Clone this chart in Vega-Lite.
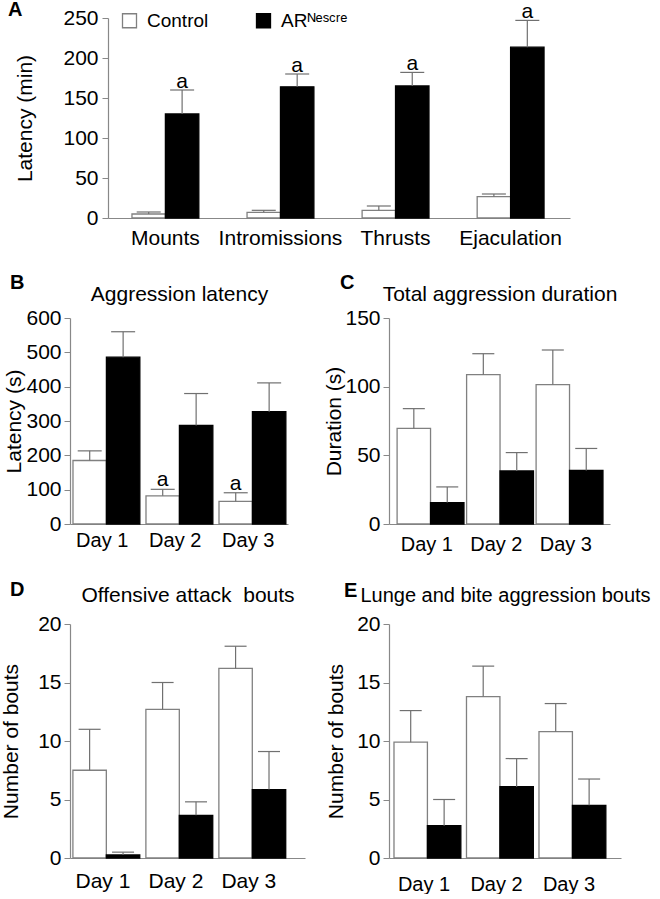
{
"$schema": "https://vega.github.io/schema/vega-lite/v6.json",
"padding": {"left": 0, "top": 0, "right": 0, "bottom": 0},
"bounds": "flush",
"columns": 2,
"spacing": {"row": 100, "column": 84},
"config": {
 "view": {"stroke": null},
 "font": "Liberation Sans",
 "axis": {"domainColor": "#888888", "tickColor": "#888888", "labelColor": "black", "titleColor": "black", "grid": false, "labelFont": "Liberation Sans", "titleFont": "Liberation Sans", "titleFontWeight": "normal", "labelFontSize": 20, "titleFontSize": 21, "domainWidth": 1.2, "labelOverlap": false},
 "title": {"font": "Liberation Sans", "fontWeight": "bold", "fontSize": 20, "anchor": "start", "frame": "group", "baseline": "alphabetic", "color": "black"}
},
"datasets": {
 "A": [
  {"cat": "Mounts", "group": "Control", "mean": 5, "upper": 7.5, "sig": ""},
  {"cat": "Mounts", "group": "ARᴺᵉˢᶜʳᵉ", "mean": 130, "upper": 160, "sig": "a"},
  {"cat": "Intromissions", "group": "Control", "mean": 7.1, "upper": 9.6, "sig": ""},
  {"cat": "Intromissions", "group": "ARᴺᵉˢᶜʳᵉ", "mean": 164, "upper": 180, "sig": "a"},
  {"cat": "Thrusts", "group": "Control", "mean": 9.6, "upper": 15, "sig": ""},
  {"cat": "Thrusts", "group": "ARᴺᵉˢᶜʳᵉ", "mean": 165, "upper": 182, "sig": "a"},
  {"cat": "Ejaculation", "group": "Control", "mean": 26.7, "upper": 30, "sig": ""},
  {"cat": "Ejaculation", "group": "ARᴺᵉˢᶜʳᵉ", "mean": 213.5, "upper": 247, "sig": "a"}
 ],
 "B": [
  {"cat": "Day 1", "group": "Control", "mean": 185, "upper": 213, "sig": ""},
  {"cat": "Day 1", "group": "ARᴺᵉˢᶜʳᵉ", "mean": 486, "upper": 560, "sig": ""},
  {"cat": "Day 2", "group": "Control", "mean": 82, "upper": 101, "sig": "a"},
  {"cat": "Day 2", "group": "ARᴺᵉˢᶜʳᵉ", "mean": 287, "upper": 380, "sig": ""},
  {"cat": "Day 3", "group": "Control", "mean": 66, "upper": 91, "sig": "a"},
  {"cat": "Day 3", "group": "ARᴺᵉˢᶜʳᵉ", "mean": 327, "upper": 411, "sig": ""}
 ],
 "C": [
  {"cat": "Day 1", "group": "Control", "mean": 69.6, "upper": 84, "sig": ""},
  {"cat": "Day 1", "group": "ARᴺᵉˢᶜʳᵉ", "mean": 15.6, "upper": 27, "sig": ""},
  {"cat": "Day 2", "group": "Control", "mean": 108.7, "upper": 124, "sig": ""},
  {"cat": "Day 2", "group": "ARᴺᵉˢᶜʳᵉ", "mean": 38.6, "upper": 52, "sig": ""},
  {"cat": "Day 3", "group": "Control", "mean": 101.5, "upper": 126.7, "sig": ""},
  {"cat": "Day 3", "group": "ARᴺᵉˢᶜʳᵉ", "mean": 39, "upper": 55, "sig": ""}
 ],
 "D": [
  {"cat": "Day 1", "group": "Control", "mean": 7.5, "upper": 11, "sig": ""},
  {"cat": "Day 1", "group": "ARᴺᵉˢᶜʳᵉ", "mean": 0.26, "upper": 0.5, "sig": ""},
  {"cat": "Day 2", "group": "Control", "mean": 12.7, "upper": 15, "sig": ""},
  {"cat": "Day 2", "group": "ARᴺᵉˢᶜʳᵉ", "mean": 3.65, "upper": 4.8, "sig": ""},
  {"cat": "Day 3", "group": "Control", "mean": 16.2, "upper": 18.1, "sig": ""},
  {"cat": "Day 3", "group": "ARᴺᵉˢᶜʳᵉ", "mean": 5.85, "upper": 9.1, "sig": ""}
 ],
 "E": [
  {"cat": "Day 1", "group": "Control", "mean": 9.9, "upper": 12.6, "sig": ""},
  {"cat": "Day 1", "group": "ARᴺᵉˢᶜʳᵉ", "mean": 2.76, "upper": 5, "sig": ""},
  {"cat": "Day 2", "group": "Control", "mean": 13.8, "upper": 16.4, "sig": ""},
  {"cat": "Day 2", "group": "ARᴺᵉˢᶜʳᵉ", "mean": 6.1, "upper": 8.5, "sig": ""},
  {"cat": "Day 3", "group": "Control", "mean": 10.8, "upper": 13.2, "sig": ""},
  {"cat": "Day 3", "group": "ARᴺᵉˢᶜʳᵉ", "mean": 4.5, "upper": 6.75, "sig": ""}
 ]
},
"concat": [
   {"width": 218, "height": 200,
    "data": {"name": "A"},
    "title": {"text": "A", "dx": -62, "offset": -19},
    "layer": [
     {"mark": {"type": "bar", "strokeWidth": 1.3},
      "encoding": {
       "x": {"field": "cat", "type": "nominal", "sort": null, "scale": {"range": [38, 500], "paddingInner": 0.419, "paddingOuter": 0.217, "align": 0.48}, "axis": {"title": null, "ticks": false, "tickSize": 0, "labelAngle": 0, "labelPadding": 9, "labelFontSize": 21}},
       "xOffset": {"field": "group", "type": "nominal", "sort": ["Control", "ARᴺᵉˢᶜʳᵉ"], "scale": {"paddingInner": 0, "paddingOuter": 0}},
       "y": {"field": "mean", "type": "quantitative", "title": "Latency (min)", "scale": {"domain": [0, 250], "nice": false}, "axis": {"values": [0, 50, 100, 150, 200, 250], "labelOverlap": false, "offset": -38, "tickSize": 6, "labelPadding": 4, "titlePadding": 27, "labelFontSize": 21, "titleFontSize": 21}},
       "fill": {"field": "group", "type": "nominal", "scale": {"domain": ["Control", "ARᴺᵉˢᶜʳᵉ"], "range": ["white", "black"]},
                "legend": {"orient": "none", "legendX": 50, "legendY": -7, "direction": "horizontal", "title": null, "symbolType": "square", "symbolSize": 196, "symbolStrokeWidth": 1.3, "labelFontSize": 19, "labelFont": "Liberation Sans", "labelColor": "black", "labelOffset": 8, "columnPadding": 44, "padding": 0}},
       "stroke": {"field": "group", "type": "nominal", "scale": {"domain": ["Control", "ARᴺᵉˢᶜʳᵉ"], "range": ["#808080", "black"]},
                "legend": {"orient": "none", "legendX": 50, "legendY": -7, "direction": "horizontal", "title": null, "symbolType": "square", "symbolSize": 196, "symbolStrokeWidth": 1.3, "labelFontSize": 19, "labelFont": "Liberation Sans", "labelColor": "black", "labelOffset": 8, "columnPadding": 44, "padding": 0}}
      }},
     {"mark": {"type": "rule", "color": "#707070", "strokeWidth": 1.2},
      "encoding": {
       "x": {"field": "cat", "type": "nominal", "sort": null},
       "xOffset": {"field": "group", "type": "nominal", "sort": ["Control", "ARᴺᵉˢᶜʳᵉ"]},
       "y": {"field": "mean", "type": "quantitative", "title": "Latency (min)", "axis": {"values": [0, 50, 100, 150, 200, 250], "labelOverlap": false, "offset": -38, "tickSize": 6, "labelPadding": 4, "titlePadding": 27, "labelFontSize": 21, "titleFontSize": 21}},
       "y2": {"field": "upper"}
      }},
     {"mark": {"type": "tick", "color": "#707070", "size": 24, "thickness": 1.2, "opacity": 1, "orient": "horizontal"},
      "encoding": {
       "x": {"field": "cat", "type": "nominal", "sort": null},
       "xOffset": {"field": "group", "type": "nominal", "sort": ["Control", "ARᴺᵉˢᶜʳᵉ"]},
       "y": {"field": "upper", "type": "quantitative", "title": "Latency (min)", "axis": {"values": [0, 50, 100, 150, 200, 250], "labelOverlap": false, "offset": -38, "tickSize": 6, "labelPadding": 4, "titlePadding": 27, "labelFontSize": 21, "titleFontSize": 21}}
      }},
     {"mark": {"type": "text", "baseline": "alphabetic", "dy": -2, "fontSize": 21, "font": "Liberation Sans", "color": "black"},
      "encoding": {
       "x": {"field": "cat", "type": "nominal", "sort": null},
       "xOffset": {"field": "group", "type": "nominal", "sort": ["Control", "ARᴺᵉˢᶜʳᵉ"]},
       "y": {"field": "upper", "type": "quantitative", "title": "Latency (min)", "axis": {"values": [0, 50, 100, 150, 200, 250], "labelOverlap": false, "offset": -38, "tickSize": 6, "labelPadding": 4, "titlePadding": 27, "labelFontSize": 21, "titleFontSize": 21}},
       "text": {"field": "sig"}
      }}
    ]},
   {"width": 1, "height": 1, "data": {"values": [{"v": 0}]}, "mark": {"type": "point", "opacity": 0}},
   {"width": 218, "height": 206,
    "data": {"name": "B"},
    "title": {"text": "B", "dx": -60, "offset": -10},
    "resolve": {"axis": {"x": "independent"}},
    "layer": [
     {"mark": {"type": "bar", "strokeWidth": 1.3},
      "encoding": {
       "x": {"field": "cat", "type": "nominal", "sort": null, "scale": {"paddingInner": 0.2, "paddingOuter": 0.093, "align": 0.22}, "axis": {"title": null, "ticks": false, "tickSize": 0, "labelAngle": 0, "labelPadding": 6, "labelFontSize": 20}},
       "xOffset": {"field": "group", "type": "nominal", "sort": ["Control", "ARᴺᵉˢᶜʳᵉ"], "scale": {"paddingInner": 0, "paddingOuter": 0}},
       "y": {"field": "mean", "type": "quantitative", "title": "Latency (s)", "scale": {"domain": [0, 600], "nice": false}, "axis": {"values": [0, 100, 200, 300, 400, 500, 600], "labelOverlap": false, "tickSize": 6, "labelPadding": 3, "titlePadding": 1, "labelFontSize": 21, "titleFontSize": 21}},
       "fill": {"condition": {"test": "datum.group === 'Control'", "value": "white"}, "value": "black"},
       "stroke": {"condition": {"test": "datum.group === 'Control'", "value": "#808080"}, "value": "black"}
      }},
     {"mark": {"type": "rule", "color": "#707070", "strokeWidth": 1.2},
      "encoding": {
       "x": {"field": "cat", "type": "nominal", "sort": null, "axis": null},
       "xOffset": {"field": "group", "type": "nominal", "sort": ["Control", "ARᴺᵉˢᶜʳᵉ"]},
       "y": {"field": "mean", "type": "quantitative", "title": "Latency (s)", "axis": {"values": [0, 100, 200, 300, 400, 500, 600], "labelOverlap": false, "tickSize": 6, "labelPadding": 3, "titlePadding": 1, "labelFontSize": 21, "titleFontSize": 21}},
       "y2": {"field": "upper"}
      }},
     {"mark": {"type": "tick", "color": "#707070", "size": 24, "thickness": 1.2, "opacity": 1, "orient": "horizontal"},
      "encoding": {
       "x": {"field": "cat", "type": "nominal", "sort": null, "axis": null},
       "xOffset": {"field": "group", "type": "nominal", "sort": ["Control", "ARᴺᵉˢᶜʳᵉ"]},
       "y": {"field": "upper", "type": "quantitative", "title": "Latency (s)", "axis": {"values": [0, 100, 200, 300, 400, 500, 600], "labelOverlap": false, "tickSize": 6, "labelPadding": 3, "titlePadding": 1, "labelFontSize": 21, "titleFontSize": 21}}
      }},
     {"mark": {"type": "text", "baseline": "alphabetic", "dy": -3, "fontSize": 21, "font": "Liberation Sans", "color": "black"},
      "encoding": {
       "x": {"field": "cat", "type": "nominal", "sort": null, "axis": {"orient": "top", "title": "Aggression latency", "labels": false, "ticks": false, "domain": false, "titlePadding": 14, "titleFontSize": 21}},
       "xOffset": {"field": "group", "type": "nominal", "sort": ["Control", "ARᴺᵉˢᶜʳᵉ"]},
       "y": {"field": "upper", "type": "quantitative", "title": "Latency (s)", "axis": {"values": [0, 100, 200, 300, 400, 500, 600], "labelOverlap": false, "tickSize": 6, "labelPadding": 3, "titlePadding": 1, "labelFontSize": 21, "titleFontSize": 21}},
       "text": {"field": "sig"}
      }}
    ]},
   {"width": 221, "height": 206,
    "data": {"name": "C"},
    "title": {"text": "C", "dx": -49, "offset": -10},
    "resolve": {"axis": {"x": "independent"}},
    "layer": [
     {"mark": {"type": "bar", "strokeWidth": 1.3},
      "encoding": {
       "x": {"field": "cat", "type": "nominal", "sort": null, "scale": {"paddingInner": 0.144, "paddingOuter": 0.162, "align": 0.36}, "axis": {"title": null, "ticks": false, "tickSize": 0, "labelAngle": 0, "labelPadding": 10, "labelFontSize": 20}},
       "xOffset": {"field": "group", "type": "nominal", "sort": ["Control", "ARᴺᵉˢᶜʳᵉ"], "scale": {"paddingInner": 0, "paddingOuter": 0}},
       "y": {"field": "mean", "type": "quantitative", "title": "Duration (s)", "scale": {"domain": [0, 150], "nice": false}, "axis": {"values": [0, 50, 100, 150], "labelOverlap": false, "tickSize": 6, "labelPadding": 3, "titlePadding": 0, "labelFontSize": 21, "titleFontSize": 21}},
       "fill": {"condition": {"test": "datum.group === 'Control'", "value": "white"}, "value": "black"},
       "stroke": {"condition": {"test": "datum.group === 'Control'", "value": "#808080"}, "value": "black"}
      }},
     {"mark": {"type": "rule", "color": "#707070", "strokeWidth": 1.2},
      "encoding": {
       "x": {"field": "cat", "type": "nominal", "sort": null, "axis": null},
       "xOffset": {"field": "group", "type": "nominal", "sort": ["Control", "ARᴺᵉˢᶜʳᵉ"]},
       "y": {"field": "mean", "type": "quantitative", "title": "Duration (s)", "axis": {"values": [0, 50, 100, 150], "labelOverlap": false, "tickSize": 6, "labelPadding": 3, "titlePadding": 0, "labelFontSize": 21, "titleFontSize": 21}},
       "y2": {"field": "upper"}
      }},
     {"mark": {"type": "tick", "color": "#707070", "size": 22, "thickness": 1.2, "opacity": 1, "orient": "horizontal"},
      "encoding": {
       "x": {"field": "cat", "type": "nominal", "sort": null, "axis": null},
       "xOffset": {"field": "group", "type": "nominal", "sort": ["Control", "ARᴺᵉˢᶜʳᵉ"]},
       "y": {"field": "upper", "type": "quantitative", "title": "Duration (s)", "axis": {"values": [0, 50, 100, 150], "labelOverlap": false, "tickSize": 6, "labelPadding": 3, "titlePadding": 0, "labelFontSize": 21, "titleFontSize": 21}}
      }},
     {"mark": {"type": "text", "baseline": "alphabetic", "dy": -3, "fontSize": 21, "font": "Liberation Sans", "color": "black"},
      "encoding": {
       "x": {"field": "cat", "type": "nominal", "sort": null, "axis": {"orient": "top", "title": "Total aggression duration", "labels": false, "ticks": false, "domain": false, "titlePadding": 14, "titleFontSize": 21}},
       "xOffset": {"field": "group", "type": "nominal", "sort": ["Control", "ARᴺᵉˢᶜʳᵉ"]},
       "y": {"field": "upper", "type": "quantitative", "title": "Duration (s)", "axis": {"values": [0, 50, 100, 150], "labelOverlap": false, "tickSize": 6, "labelPadding": 3, "titlePadding": 0, "labelFontSize": 21, "titleFontSize": 21}},
       "text": {"field": "sig"}
      }}
    ]},
   {"width": 235, "height": 234,
    "data": {"name": "D"},
    "title": {"text": "D", "dx": -60, "offset": -16},
    "resolve": {"axis": {"x": "independent"}},
    "layer": [
     {"mark": {"type": "bar", "strokeWidth": 1.3},
      "encoding": {
       "x": {"field": "cat", "type": "nominal", "sort": null, "scale": {"paddingInner": 0.178, "paddingOuter": 0.199, "align": 0.1}, "axis": {"title": null, "ticks": false, "tickSize": 0, "labelAngle": 0, "labelPadding": 12, "labelFontSize": 21}},
       "xOffset": {"field": "group", "type": "nominal", "sort": ["Control", "ARᴺᵉˢᶜʳᵉ"], "scale": {"paddingInner": 0, "paddingOuter": 0}},
       "y": {"field": "mean", "type": "quantitative", "title": "Number of bouts", "scale": {"domain": [0, 20], "nice": false}, "axis": {"values": [0, 5, 10, 15, 20], "labelOverlap": false, "tickSize": 6, "labelPadding": 3, "titlePadding": 16, "labelFontSize": 21, "titleFontSize": 21}},
       "fill": {"condition": {"test": "datum.group === 'Control'", "value": "white"}, "value": "black"},
       "stroke": {"condition": {"test": "datum.group === 'Control'", "value": "#808080"}, "value": "black"}
      }},
     {"mark": {"type": "rule", "color": "#707070", "strokeWidth": 1.2},
      "encoding": {
       "x": {"field": "cat", "type": "nominal", "sort": null, "axis": null},
       "xOffset": {"field": "group", "type": "nominal", "sort": ["Control", "ARᴺᵉˢᶜʳᵉ"]},
       "y": {"field": "mean", "type": "quantitative", "title": "Number of bouts", "axis": {"values": [0, 5, 10, 15, 20], "labelOverlap": false, "tickSize": 6, "labelPadding": 3, "titlePadding": 16, "labelFontSize": 21, "titleFontSize": 21}},
       "y2": {"field": "upper"}
      }},
     {"mark": {"type": "tick", "color": "#707070", "size": 22, "thickness": 1.2, "opacity": 1, "orient": "horizontal"},
      "encoding": {
       "x": {"field": "cat", "type": "nominal", "sort": null, "axis": null},
       "xOffset": {"field": "group", "type": "nominal", "sort": ["Control", "ARᴺᵉˢᶜʳᵉ"]},
       "y": {"field": "upper", "type": "quantitative", "title": "Number of bouts", "axis": {"values": [0, 5, 10, 15, 20], "labelOverlap": false, "tickSize": 6, "labelPadding": 3, "titlePadding": 16, "labelFontSize": 21, "titleFontSize": 21}}
      }},
     {"mark": {"type": "text", "baseline": "alphabetic", "dy": -3, "fontSize": 21, "font": "Liberation Sans", "color": "black"},
      "encoding": {
       "x": {"field": "cat", "type": "nominal", "sort": null, "axis": {"orient": "top", "title": "Offensive attack\u00a0 bouts", "labels": false, "ticks": false, "domain": false, "titlePadding": 19, "titleFontSize": 21}},
       "xOffset": {"field": "group", "type": "nominal", "sort": ["Control", "ARᴺᵉˢᶜʳᵉ"]},
       "y": {"field": "upper", "type": "quantitative", "title": "Number of bouts", "axis": {"values": [0, 5, 10, 15, 20], "labelOverlap": false, "tickSize": 6, "labelPadding": 3, "titlePadding": 16, "labelFontSize": 21, "titleFontSize": 21}},
       "text": {"field": "sig"}
      }}
    ]},
   {"width": 232, "height": 234,
    "data": {"name": "E"},
    "title": {"text": "E", "dx": -45, "offset": -16},
    "resolve": {"axis": {"x": "independent"}},
    "layer": [
     {"mark": {"type": "bar", "strokeWidth": 1.3},
      "encoding": {
       "x": {"field": "cat", "type": "nominal", "sort": null, "scale": {"paddingInner": 0.172, "paddingOuter": 0.186, "align": 0.185}, "axis": {"title": null, "ticks": false, "tickSize": 0, "labelAngle": 0, "labelPadding": 16, "labelFontSize": 20}},
       "xOffset": {"field": "group", "type": "nominal", "sort": ["Control", "ARᴺᵉˢᶜʳᵉ"], "scale": {"paddingInner": 0, "paddingOuter": 0}},
       "y": {"field": "mean", "type": "quantitative", "title": "Number of bouts", "scale": {"domain": [0, 20], "nice": false}, "axis": {"values": [0, 5, 10, 15, 20], "labelOverlap": false, "tickSize": 6, "labelPadding": 3, "titlePadding": 10, "labelFontSize": 21, "titleFontSize": 21}},
       "fill": {"condition": {"test": "datum.group === 'Control'", "value": "white"}, "value": "black"},
       "stroke": {"condition": {"test": "datum.group === 'Control'", "value": "#808080"}, "value": "black"}
      }},
     {"mark": {"type": "rule", "color": "#707070", "strokeWidth": 1.2},
      "encoding": {
       "x": {"field": "cat", "type": "nominal", "sort": null, "axis": null},
       "xOffset": {"field": "group", "type": "nominal", "sort": ["Control", "ARᴺᵉˢᶜʳᵉ"]},
       "y": {"field": "mean", "type": "quantitative", "title": "Number of bouts", "axis": {"values": [0, 5, 10, 15, 20], "labelOverlap": false, "tickSize": 6, "labelPadding": 3, "titlePadding": 10, "labelFontSize": 21, "titleFontSize": 21}},
       "y2": {"field": "upper"}
      }},
     {"mark": {"type": "tick", "color": "#707070", "size": 22, "thickness": 1.2, "opacity": 1, "orient": "horizontal"},
      "encoding": {
       "x": {"field": "cat", "type": "nominal", "sort": null, "axis": null},
       "xOffset": {"field": "group", "type": "nominal", "sort": ["Control", "ARᴺᵉˢᶜʳᵉ"]},
       "y": {"field": "upper", "type": "quantitative", "title": "Number of bouts", "axis": {"values": [0, 5, 10, 15, 20], "labelOverlap": false, "tickSize": 6, "labelPadding": 3, "titlePadding": 10, "labelFontSize": 21, "titleFontSize": 21}}
      }},
     {"mark": {"type": "text", "baseline": "alphabetic", "dy": -3, "fontSize": 21, "font": "Liberation Sans", "color": "black"},
      "encoding": {
       "x": {"field": "cat", "type": "nominal", "sort": null, "axis": {"orient": "top", "title": "Lunge and bite aggression bouts", "labels": false, "ticks": false, "domain": false, "titlePadding": 19, "titleFontSize": 20}},
       "xOffset": {"field": "group", "type": "nominal", "sort": ["Control", "ARᴺᵉˢᶜʳᵉ"]},
       "y": {"field": "upper", "type": "quantitative", "title": "Number of bouts", "axis": {"values": [0, 5, 10, 15, 20], "labelOverlap": false, "tickSize": 6, "labelPadding": 3, "titlePadding": 10, "labelFontSize": 21, "titleFontSize": 21}},
       "text": {"field": "sig"}
      }}
    ]}
]
}
